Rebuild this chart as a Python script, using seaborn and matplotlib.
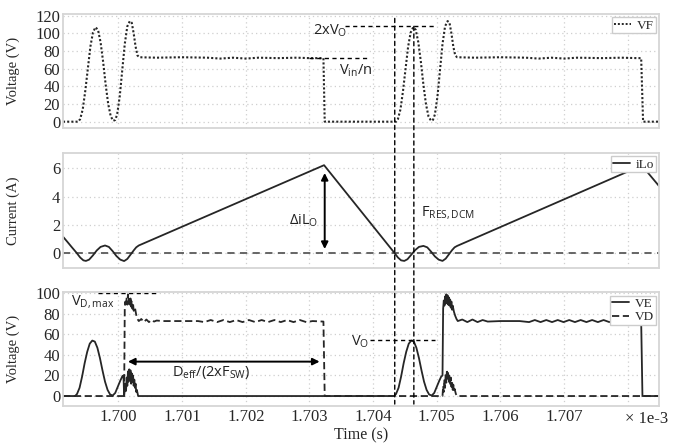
import numpy as np
import pandas as pd
import matplotlib
matplotlib.use("Agg")
import matplotlib.pyplot as plt
import seaborn as sns
from matplotlib.patches import ConnectionPatch
from matplotlib.lines import Line2D

# ---------------- data (time in units of 1e-3 s) ----------------
t_vf = [1.69913, 1.69937, 1.69940, 1.69944, 1.69948, 1.69952, 1.69956, 1.69960, 1.69964,
        1.69968, 1.69972, 1.69976, 1.69980, 1.69984, 1.69988, 1.69992, 1.69995, 1.69998,
        1.70002, 1.70006, 1.70010, 1.70014, 1.70018, 1.70021, 1.70024, 1.70027, 1.70030,
        1.70033, 1.70060, 1.70100, 1.70140, 1.70160, 1.70180, 1.70200, 1.70220, 1.70250,
        1.70280, 1.70300, 1.70322, 1.70324, 1.70436, 1.70439, 1.70443, 1.70447, 1.70451,
        1.70455, 1.70459, 1.70463, 1.70467, 1.70471, 1.70475, 1.70479, 1.70483, 1.70487,
        1.70491, 1.70494, 1.70497, 1.70501, 1.70505, 1.70509, 1.70513, 1.70517, 1.70520,
        1.70523, 1.70526, 1.70529, 1.70532, 1.70560, 1.70600, 1.70640, 1.70660, 1.70680,
        1.70700, 1.70720, 1.70760, 1.70790, 1.70815, 1.70821, 1.70824, 1.70849]
v_vf = [0, 0, 3, 14, 35, 60, 85, 101, 107,
        104, 90, 68, 42, 20, 6, 1, 2, 8,
        28, 58, 88, 108, 114, 112, 100, 85, 75,
        73, 72.5, 73, 72.5, 71.5, 72.5, 71.5, 72.5, 72,
        72.5, 72, 72, 0, 0, 3, 14, 35, 60,
        85, 101, 107, 104, 90, 68, 42, 20, 6,
        1, 2, 8, 28, 58, 88, 108, 114, 112,
        100, 85, 75, 73, 72.5, 73, 72.5, 71.5, 72.5,
        71.5, 72.5, 72, 72.5, 72, 72, 0, 0]

t_ilo = [1.69913, 1.69920, 1.69927, 1.69934, 1.69940, 1.69945, 1.69949, 1.69954, 1.69960,
         1.69966, 1.69972, 1.69979, 1.69985, 1.69991, 1.69997, 1.70003, 1.70009, 1.70014,
         1.70019, 1.70024, 1.70028, 1.70032, 1.70323, 1.70434, 1.70439, 1.70444, 1.70449,
         1.70454, 1.70460, 1.70466, 1.70472, 1.70479, 1.70485, 1.70491, 1.70497, 1.70503,
         1.70509, 1.70514, 1.70519, 1.70524, 1.70528, 1.70532, 1.70822, 1.70849]
i_ilo = [1.17, 0.80, 0.42, 0.05, -0.30, -0.50, -0.54, -0.45, -0.15,
         0.20, 0.45, 0.55, 0.45, 0.15, -0.20, -0.45, -0.55, -0.40,
         -0.10, 0.20, 0.42, 0.55, 6.22, 0.0, -0.30, -0.50, -0.54,
         -0.42, -0.10, 0.22, 0.45, 0.52, 0.42, 0.12, -0.22, -0.45,
         -0.54, -0.38, -0.08, 0.22, 0.42, 0.52, 6.20, 4.75]

t_ve = [1.69913, 1.69932, 1.69935, 1.69939, 1.69943, 1.69947, 1.69951, 1.69955, 1.69959,
        1.69963, 1.69967, 1.69971, 1.69975, 1.69979, 1.69983, 1.69987, 1.69991, 1.69995,
        1.69999, 1.70003, 1.70006, 1.70008, 1.70009, 1.70011, 1.70012, 1.70013, 1.70014,
        1.70015, 1.70016, 1.70017, 1.70018, 1.70019, 1.70020, 1.70021, 1.70022, 1.70023,
        1.70024, 1.70025, 1.70026, 1.70027, 1.70028, 1.70029, 1.70031, 1.70433, 1.70436,
        1.70440, 1.70444, 1.70448, 1.70452, 1.70456, 1.70460, 1.70464, 1.70468, 1.70472,
        1.70476, 1.70480, 1.70484, 1.70488, 1.70492, 1.70496, 1.70500, 1.70504, 1.70507,
        1.70509, 1.70510, 1.70511, 1.70512, 1.70513, 1.70514, 1.70515, 1.70516, 1.70517,
        1.70518, 1.70519, 1.70520, 1.70521, 1.70522, 1.70523, 1.70524, 1.70525, 1.70527,
        1.70529, 1.70531, 1.70533, 1.70540, 1.70548, 1.70556, 1.70564, 1.70572, 1.70580,
        1.70600, 1.70630, 1.70645, 1.70654, 1.70663, 1.70672, 1.70681, 1.70690, 1.70699,
        1.70708, 1.70717, 1.70726, 1.70735, 1.70744, 1.70753, 1.70762, 1.70771, 1.70780,
        1.70789, 1.70798, 1.70807, 1.70816, 1.70821, 1.70823, 1.70849]
v_ve = [0, 0, 2, 8, 19, 32, 43, 51, 54,
        53, 47, 37, 25, 14, 6, 1.5, 0.5, 3,
        9, 15, 19, 20, 0, 12, 5, 18, 10,
        24, 14, 26, 16, 25, 12, 22, 14, 20,
        10, 16, 8, 12, 4, 6, 0, 0, 2,
        8, 19, 32, 43, 51, 54, 53, 47, 37,
        25, 14, 6, 1.5, 0.5, 3, 9, 15, 19,
        20, 85, 93, 88, 97, 90, 99, 91, 98,
        89, 96, 88, 94, 86, 92, 84, 88, 82,
        78, 75, 73, 74.5, 72, 74.5, 72, 74, 72.5,
        73, 73, 72, 74, 72, 74, 72, 74, 72,
        74, 72, 74, 72, 74, 72, 74, 72, 74,
        72, 74, 72, 73.5, 73, 0, 0]

t_vd = [1.69913, 1.70009, 1.70010, 1.70011, 1.70012, 1.70013, 1.70014, 1.70015, 1.70016,
        1.70017, 1.70018, 1.70019, 1.70020, 1.70021, 1.70022, 1.70023, 1.70024, 1.70026,
        1.70028, 1.70030, 1.70032, 1.70036, 1.70040, 1.70044, 1.70048, 1.70052, 1.70056,
        1.70060, 1.70070, 1.70100, 1.70125, 1.70135, 1.70145, 1.70155, 1.70165, 1.70175,
        1.70185, 1.70195, 1.70205, 1.70215, 1.70225, 1.70235, 1.70245, 1.70255, 1.70265,
        1.70275, 1.70285, 1.70295, 1.70305, 1.70322, 1.70324, 1.70509, 1.70510, 1.70511,
        1.70512, 1.70513, 1.70514, 1.70515, 1.70516, 1.70517, 1.70518, 1.70519, 1.70520,
        1.70521, 1.70522, 1.70523, 1.70524, 1.70525, 1.70526, 1.70527, 1.70528, 1.70530,
        1.70532, 1.70849]
v_vd = [0, 0, 86, 92, 87, 96, 89, 99, 90,
        97, 88, 95, 87, 93, 85, 90, 83, 86,
        79, 75, 73, 75, 72, 74.5, 72, 74, 72.5,
        73.5, 73, 73, 73, 72, 74, 72, 74, 72,
        74, 72, 74, 72, 74, 72, 74, 72, 74,
        72, 74, 72, 73, 72.5, 0, 0, 10, 4,
        16, 8, 22, 13, 26, 15, 24, 12, 21,
        11, 18, 9, 15, 6, 11, 4, 7, 2,
        0, 0]

x_ticks = [1.700, 1.701, 1.702, 1.703, 1.704, 1.705, 1.706, 1.707, 1.708]
x_labels = ["1.700", "1.701", "1.702", "1.703", "1.704", "1.705", "1.706", "1.707", ""]
y_ticks_top = [0, 20, 40, 60, 80, 100, 120]
y_ticks_mid = [0, 2, 4, 6]
y_ticks_bot = [0, 20, 40, 60, 80, 100]

# annotation reference values
t_cursor = [1.70434, 1.70464]
v_2vo, v_vin, v_vo, v_dmax = 108, 72.5, 55, 100

# ---------------- style ----------------
sns.set_style("white")
plt.rcParams['font.family'] = ['Liberation Serif', 'DejaVu Serif']
plt.rcParams['mathtext.default'] = 'regular'

W, H = 681, 444
fig = plt.figure(figsize=(W / 100, H / 100), dpi=100)

def rect(x0, y0, x1, y1):
    return [x0 / W, 1 - y1 / H, (x1 - x0) / W, (y1 - y0) / H]

ax1 = fig.add_axes(rect(63, 14, 659, 128.3))
ax2 = fig.add_axes(rect(63, 153, 659, 268))
ax3 = fig.add_axes(rect(63, 292.3, 659, 406))

line_c = '#262626'
xlim = (1.69913, 1.70849)

for ax in (ax1, ax2, ax3):
    ax.set_xlim(*xlim)
    ax.set_xticks(x_ticks)
    ax.grid(True, linestyle=(0, (1, 2.5)), color='#cfcfcf', lw=0.9)
    for s in ax.spines.values():
        s.set_color('#d6d6d6')
        s.set_linewidth(1.3)
    ax.tick_params(length=0, labelsize=12, pad=2)
    ax.set_axisbelow(True)

ax1.set_xticklabels([])
ax2.set_xticklabels([])
ax3.set_xticklabels(x_labels)

# top panel
df_vf = pd.DataFrame({"t": t_vf, "v": v_vf})
sns.lineplot(data=df_vf, x="t", y="v", ax=ax1, sort=False, estimator=None,
             color=line_c, lw=1.5, linestyle=(0, (1, 1)))
ax1.set_ylim(-7.5, 122)
ax1.set_yticks(y_ticks_top)

# middle panel
df_ilo = pd.DataFrame({"t": t_ilo, "i": i_ilo})
ax2.axhline(0, color='#5a5a5a', lw=1.3, linestyle=(0, (4, 3)))
sns.lineplot(data=df_ilo, x="t", y="i", ax=ax2, sort=False, estimator=None,
             color=line_c, lw=1.3)
ax2.set_ylim(-1.04, 7.08)
ax2.set_yticks(y_ticks_mid)

# bottom panel
df_ve = pd.DataFrame({"t": t_ve, "v": v_ve})
df_vd = pd.DataFrame({"t": t_vd, "v": v_vd})
sns.lineplot(data=df_ve, x="t", y="v", ax=ax3, sort=False, estimator=None,
             color=line_c, lw=1.3)
sns.lineplot(data=df_vd, x="t", y="v", ax=ax3, sort=False, estimator=None,
             color=line_c, lw=1.3, linestyle=(0, (4, 2)))
ax3.set_ylim(-9.7, 101)
ax3.set_yticks(y_ticks_bot)

for ax in (ax1, ax2, ax3):
    ax.set_xlabel("")
ax1.set_ylabel("Voltage (V)", fontsize=10.5)
ax2.set_ylabel("Current (A)", fontsize=10.5)
ax3.set_ylabel("Voltage (V)", fontsize=10.5)
for ax in (ax1, ax2, ax3):
    ax.yaxis.set_label_coords(-0.072, 0.5)
ax3.set_xlabel("Time (s)", fontsize=11.5)
ax3.xaxis.set_label_coords(0.5, -0.19)
fig.text(647 / W, 1 - 419 / H, "× 1e-3", fontsize=12, ha='center', va='center')

# legends
leg_kw = dict(loc='upper right', fontsize=9.5, frameon=True, fancybox=False,
              framealpha=1, edgecolor='#cccccc', borderpad=0.15, handlelength=1.3,
              handletextpad=0.4, borderaxespad=0.25, labelspacing=0.1)
ax1.legend(handles=[Line2D([], [], color=line_c, lw=1.4, linestyle=(0, (1, 1)))], labels=['VF'], **leg_kw)
ax2.legend(handles=[Line2D([], [], color=line_c, lw=1.3)], labels=['iLo'], **leg_kw)
ax3.legend(handles=[Line2D([], [], color=line_c, lw=1.3),
                    Line2D([], [], color=line_c, lw=1.3, linestyle=(0, (4, 2)))],
           labels=['VE', 'VD'], **leg_kw)

# annotations
ann_font = dict(family=['Open Sans', 'DejaVu Sans'], fontsize=10.5, color='#222222')
dash_k = (0, (3, 2.5))
ax1.plot([1.70356, 1.70497], [v_2vo, v_2vo], color='k', lw=1, linestyle=dash_k)
ax1.plot([1.70300, 1.70395], [v_vin, v_vin], color='k', lw=1, linestyle=dash_k)
ax1.text(1.70305, 103, "2xV$_O$", ha='left', va='center', **ann_font)
ax1.text(1.70347, 58, "V$_{in}$/n", ha='left', va='center', **ann_font)

ax2.annotate('', xy=(1.70324, 0.3), xytext=(1.70324, 5.67),
             arrowprops=dict(arrowstyle='<|-|>', color='k', lw=1.4,
                             mutation_scale=10, shrinkA=0, shrinkB=0))
ax2.text(1.70268, 2.3, "ΔiL$_O$", ha='left', va='center', **ann_font)
ax2.text(1.70476, 2.85, "F$_{RES,DCM}$", ha='left', va='center', **ann_font)

ax3.plot([1.69968, 1.70061], [v_dmax, v_dmax], color='k', lw=1, linestyle=dash_k, clip_on=False)
ax3.plot([1.70395, 1.70497], [v_vo, v_vo], color='k', lw=1, linestyle=dash_k)
ax3.text(1.69926, 92, "V$_{D,max}$", ha='left', va='center', **ann_font)
ax3.text(1.70366, 53, "V$_O$", ha='left', va='center', **ann_font)
ax3.annotate('', xy=(1.70015, 33.5), xytext=(1.70316, 33.5),
             arrowprops=dict(arrowstyle='<|-|>', color='k', lw=1.4,
                             mutation_scale=10, shrinkA=0, shrinkB=0))
ax3.text(1.70084, 23, "D$_{eff}$/(2xF$_{SW}$)", ha='left', va='center', **ann_font)

# vertical cursor lines spanning all panels
tops = [117, 108]
for tc, top in zip(t_cursor, tops):
    con = ConnectionPatch(xyA=(tc, top), coordsA=ax1.transData,
                          xyB=(tc, -7.8), coordsB=ax3.transData,
                          color='k', lw=1, linestyle=dash_k)
    fig.add_artist(con)

fig.savefig("out.png", dpi=100)
